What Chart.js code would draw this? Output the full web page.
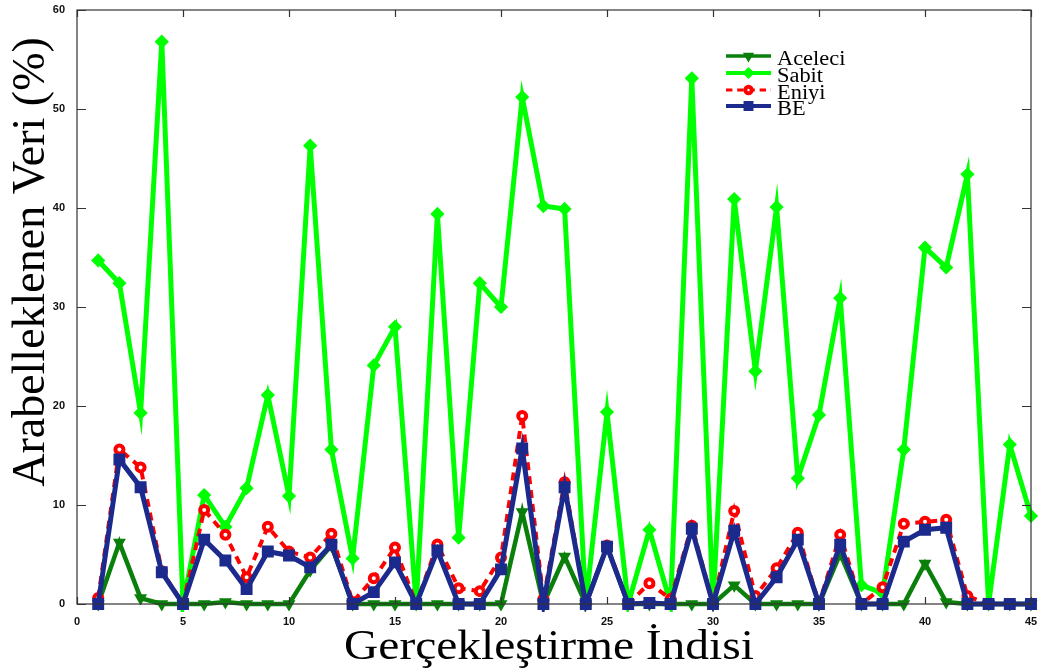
<!DOCTYPE html>
<html>
<head>
<meta charset="utf-8">
<script src="https://cdn.jsdelivr.net/npm/chart.js@4/dist/chart.umd.min.js"></script>
<style>
  html, body { margin: 0; padding: 0; background: #fff; }
  #wrap { width: 1039px; height: 671px; position: relative; }
</style>
</head>
<body>
<div id="wrap"><canvas id="cv"></canvas></div>
<script>
// ---------- DATA ----------
const runIdx = [1, 2, 3, 4, 5, 6, 7, 8, 9, 10, 11, 12, 13, 14, 15, 16, 17, 18, 19, 20, 21, 22, 23,
    24, 25, 26, 27, 28, 29, 30, 31, 32, 33, 34, 35, 36, 37, 38, 39, 40, 41, 42, 43, 44, 45];

const aceleci = [0, 6.2, 0.6, 0, 0, 0, 0.2, 0, 0, 0, 3.4, 5.9, 0, 0, 0, 0, 0, 0, 0, 0, 9.3, 0, 4.8,
    0, 5.8, 0, 0, 0, 0, 0, 1.9, 0, 0, 0, 0, 5.1, 0, 0, 0, 4.1, 0.2, 0, 0, 0, 0];

const sabit = [34.7, 32.4, 19.3, 56.8, 0, 11.0, 7.8, 11.7, 21.1, 10.9, 46.3, 15.6, 4.6, 24.1, 28.0,
    0, 39.4, 6.7, 32.4, 30.0, 51.2, 40.2, 39.9, 0, 19.4, 0, 7.5, 0, 53.1, 0, 40.9, 23.5, 40.1, 12.7,
    19.1, 30.9, 1.9, 1.1, 15.6, 36.0, 34.0, 43.4, 0, 16.1, 8.9];

const eniyi = [0.6, 15.6, 13.8, 3.3, 0, 9.5, 7.0, 2.7, 7.8, 5.3, 4.7, 7.1, 0.2, 2.6, 5.7, 0, 6.0,
    1.6, 1.3, 4.7, 19.0, 0.5, 12.3, 0, 5.9, 0, 2.1, 0.5, 7.9, 0, 9.4, 0.8, 3.6, 7.2, 0, 7.0, 0, 1.7,
    8.1, 8.3, 8.5, 0.8, 0, 0, 0];

const be = [0, 14.6, 11.8, 3.2, 0, 6.5, 4.4, 1.5, 5.3, 4.9, 3.7, 6.0, 0, 1.2, 4.2, 0, 5.4, 0, 0,
    3.5, 15.7, 0, 11.8, 0, 5.8, 0, 0.1, 0, 7.6, 0, 7.4, 0, 2.7, 6.5, 0, 6.0, 0, 0, 6.3, 7.5, 7.7,
    0, 0, 0, 0];

const xTicks = [0, 5, 10, 15, 20, 25, 30, 35, 40, 45];
const yTicks = [0, 10, 20, 30, 40, 50, 60];

const xTitle = "Gerçekleştirme İndisi";
const yTitle = "Arabelleklenen Veri (%)";

// ---------- STYLES ----------
const series = [
    { label: "Aceleci", values: aceleci, color: "#0a7f0a", width: 4.5, dash: [],
      point: { pointStyle: "triangle", rotation: 180, radius: 5, borderWidth: 2.5 }, fill: true, order: 3 },
    { label: "Sabit", values: sabit, color: "#00ff00", width: 5, dash: [],
      point: { pointStyle: "rectRot", rotation: 0, radius: 5, borderWidth: 3 }, fill: true, order: 2 },
    { label: "Eniyi", values: eniyi, color: "#ff0000", width: 4, dash: [8, 6],
      point: { pointStyle: "circle", rotation: 0, radius: 4, borderWidth: 4 }, fill: false, order: 1 },
    { label: "BE", values: be, color: "#1b2a8c", width: 5, dash: [],
      point: { pointStyle: "rect", rotation: 0, radius: 7, borderWidth: 2 }, fill: true, order: 0 }
];

const toXY = arr => runIdx.map((x, i) => ({ x, y: arr[i] }));

const serif = "'Liberation Serif', 'DejaVu Serif', serif";

// ---------- PLUGINS ----------
// box frame with inward ticks on all four sides
const framePlugin = {
    id: "frame",
    afterDraw(chart) {
        const { ctx, chartArea: a, scales } = chart;
        const len = 7;
        ctx.save();
        ctx.strokeStyle = "#333";
        ctx.lineWidth = 1.2;
        ctx.strokeRect(a.left, a.top, a.right - a.left, a.bottom - a.top);
        ctx.beginPath();
        xTicks.forEach(v => {
            const px = Math.round(scales.x.getPixelForValue(v)) + 0.5;
            ctx.moveTo(px, a.bottom); ctx.lineTo(px, a.bottom - len);
            ctx.moveTo(px, a.top); ctx.lineTo(px, a.top + len);
        });
        yTicks.forEach(v => {
            const py = Math.round(scales.y.getPixelForValue(v)) + 0.5;
            ctx.moveTo(a.left, py); ctx.lineTo(a.left + len + 2, py);
            ctx.moveTo(a.right, py); ctx.lineTo(a.right - len - 2, py);
        });
        ctx.stroke();
        ctx.restore();
    }
};

// axis titles + legend box in the upper right
const textPlugin = {
    id: "texts",
    afterDraw(chart) {
        const { ctx } = chart;
        ctx.save();
        ctx.fillStyle = "#000";
        ctx.textAlign = "center";
        ctx.textBaseline = "alphabetic";
        ctx.font = "42px " + serif;
        ctx.translate(549, 659);
        ctx.scale(1.13, 1);
        ctx.fillText(xTitle, 0, 0);
        ctx.restore();

        ctx.save();
        ctx.fillStyle = "#000";
        ctx.textAlign = "center";
        ctx.translate(44, 262);
        ctx.rotate(-Math.PI / 2);
        ctx.font = "46px " + serif;
        ctx.fillText(yTitle, 0, 0);
        ctx.restore();

        // legend
        const x0 = 726, x1 = 771, rowY = [56, 73, 90, 106];
        ctx.save();
        series.forEach((s, i) => {
            const y = rowY[i];
            ctx.strokeStyle = s.color;
            ctx.lineWidth = s.width - 1;
            ctx.setLineDash(s.dash.map(d => d * 0.8));
            ctx.beginPath();
            ctx.moveTo(x0, y); ctx.lineTo(x1, y);
            ctx.stroke();
            ctx.setLineDash([]);
            ctx.fillStyle = s.fill ? s.color : "#fff";
            ctx.lineWidth = s.point.borderWidth;
            Chart.helpers.drawPoint(ctx, {
                pointStyle: s.point.pointStyle,
                rotation: s.point.rotation,
                radius: s.point.radius * 0.8,
                borderWidth: s.point.borderWidth
            }, (x0 + x1) / 2, y);
            ctx.save();
            ctx.fillStyle = "#000";
            ctx.font = "20px " + serif;
            ctx.textAlign = "left";
            ctx.textBaseline = "middle";
            ctx.translate(777, y + 4);
            ctx.scale(1.12, 1);
            ctx.fillText(s.label, 0, 0);
            ctx.restore();
        });
        ctx.restore();
    }
};

// ---------- CHART ----------
const datasets = series.map(s => ({
    label: s.label,
    data: toXY(s.values),
    borderColor: s.color,
    borderWidth: s.width,
    borderDash: s.dash,
    backgroundColor: s.color,
    pointStyle: s.point.pointStyle,
    rotation: s.point.rotation,
    pointRadius: s.point.radius,
    pointBorderWidth: s.point.borderWidth,
    pointBorderColor: s.color,
    pointBackgroundColor: s.fill ? s.color : "#fff",
    pointHoverRadius: s.point.radius,
    tension: 0,
    // markers may hang below the axis, long miter tips may not
    clip: { left: 8, right: 8, top: 30, bottom: 8 },
    order: s.order
}));

new Chart(document.getElementById("cv"), {
    type: "line",
    data: { datasets },
    plugins: [framePlugin, textPlugin],
    options: {
        responsive: true,
        maintainAspectRatio: false,
        animation: false,
        layout: { autoPadding: false, padding: { top: 10, right: 8, left: 0, bottom: 0 } },
        plugins: { legend: { display: false }, tooltip: { enabled: false } },
        scales: {
            x: {
                type: "linear",
                min: 0,
                max: 45,
                afterFit: s => {
                    s.height = 67;
                    s.paddingLeft = 0;
                    s.paddingRight = 0;
                },
                afterBuildTicks: s => { s.ticks = xTicks.map(v => ({ value: v })); },
                grid: { display: false },
                border: { display: false },
                ticks: {
                    padding: 3,
                    maxRotation: 0,
                    color: "#111",
                    font: { family: "'Liberation Sans', Arial, sans-serif", size: 11, weight: "bold" }
                }
            },
            y: {
                min: 0,
                max: 60,
                afterFit: s => {
                    s.width = 77;
                    s.paddingTop = 0;
                    s.paddingBottom = 0;
                },
                afterBuildTicks: s => { s.ticks = yTicks.map(v => ({ value: v })); },
                grid: { display: false },
                border: { display: false },
                ticks: {
                    padding: 4,
                    color: "#111",
                    font: { family: "'Liberation Sans', Arial, sans-serif", size: 11, weight: "bold" }
                }
            }
        }
    }
});
</script>
</body>
</html>
